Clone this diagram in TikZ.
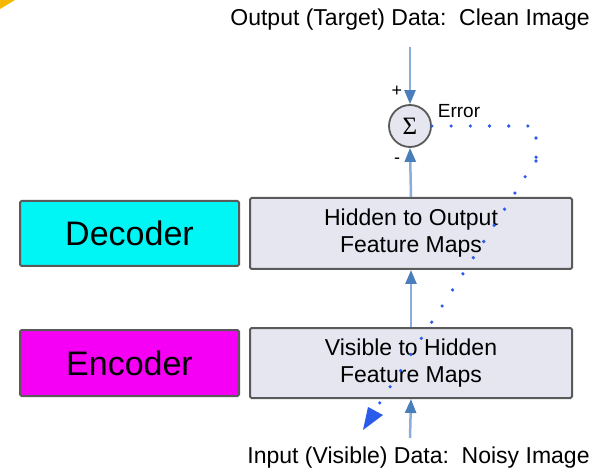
\documentclass[tikz,border=0pt]{standalone}
\usepackage{fontspec}
\setmainfont{Liberation Sans}
\newfontfamily\sigmafont{Liberation Serif}
\usetikzlibrary{arrows.meta}
\definecolor{cyanbox}{HTML}{00F5F5}
\definecolor{magbox}{HTML}{F500F5}
\definecolor{graybox}{HTML}{E6E6F0}
\definecolor{edgegray}{HTML}{5A5A5A}
\definecolor{lineblue}{HTML}{8AAEDC}
\definecolor{headblue}{HTML}{4A7EBB}
\definecolor{errblue}{HTML}{2A5BEA}
\definecolor{cornerorange}{HTML}{F5B800}
\begin{document}
\begin{tikzpicture}[x=1pt,y=-1pt,
  box/.style={draw=edgegray,line width=2pt,rounded corners=1.5pt,inner sep=0pt,anchor=north west,align=center},
  labelbox/.style={box,minimum width=219pt,font=\fontsize{34}{34}\selectfont},
  mapbox/.style={box,fill=graybox,minimum width=322pt,font=\fontsize{23}{27}\selectfont},
  conn/.style={draw=lineblue,line width=2.5pt,-{Triangle[length=14pt,width=11pt,color=headblue]}},
  errdots/.style={draw=errblue,line width=3.6pt,line cap=round,dash pattern=on 0pt off 19.2pt},
  caption/.style={font=\fontsize{23}{23}\selectfont,inner sep=0pt}
]
\useasboundingbox (0,0) rectangle (606,476);
\fill[white] (0,0) rectangle (606,476);
\fill[cornerorange] (0,0) -- (15,0) -- (0,9) -- cycle;

% left label boxes
\node[labelbox,fill=cyanbox,minimum height=65pt] (dec) at (19,200) {Decoder};
\node[labelbox,fill=magbox,minimum height=66pt] (enc) at (19,329) {Encoder};

% feature map boxes
\node[mapbox,minimum height=71pt] (h2o) at (249,197) {Hidden to Output\\Feature Maps};
\node[mapbox,minimum height=70pt] (v2h) at (249,327) {Visible to Hidden\\Feature Maps};

% summation
\node[circle,draw=edgegray,line width=1.8pt,fill=graybox,minimum size=42pt,inner sep=0pt,font=\sigmafont\fontsize{25}{25}\selectfont] (sig) at (410,126) {Σ};
\node[font=\fontsize{18}{18}\selectfont,inner sep=0pt] (plus) at (397,91) {+};
\node[font=\fontsize{18}{18}\selectfont,inner sep=0pt] (minus) at (397,161) {-};
\node[font=\fontsize{19}{19}\selectfont,inner sep=0pt] (err) at (459,111) {Error};

% captions
\node[caption] (top) at (410,20) {Output (Target) Data:\ \ Clean Image};
\node[caption] (bot) at (418.5,458) {Input (Visible) Data:\ \ Noisy Image};

% connectors
\coordinate (topin) at (410,47);
\coordinate (botin) at (410,438);
\draw[conn] (topin) -- (sig.north);
\draw[conn] (h2o.north) -- (sig.south);
\draw[conn] (v2h.north) -- (h2o.south);
\draw[conn] (botin) -- (v2h.south);

% error feedback (dotted)
\coordinate (e1) at (528,126);
\coordinate (e2) at (536,138);
\coordinate (e3) at (536,158);
\coordinate (e4) at (536,161);
\coordinate (e5) at (525,177);
\coordinate (e6) at (515,193);
\coordinate (e7) at (379,404);
\coordinate (tipA) at (363,430);
\coordinate (tipB) at (368,407);
\coordinate (tipC) at (383,415);
\draw[errdots] (sig.east) -- (e1);
\draw[errdots] (e2) -- (e3);
\draw[errdots] (e4) -- (e5) -- (e6) -- (e7);
\fill[errblue] (tipA) -- (tipB) -- (tipC) -- cycle;
\end{tikzpicture}
\end{document}
